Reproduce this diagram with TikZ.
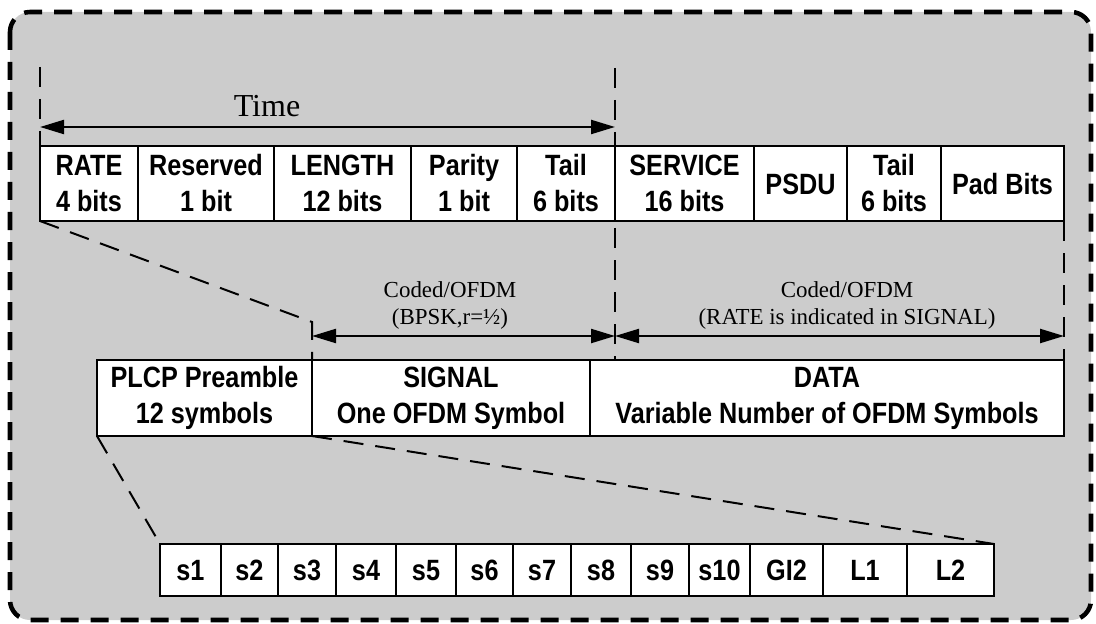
\documentclass[tikz,border=0pt]{standalone}
\usepackage{fontspec}
\setmainfont{Liberation Serif}
\newfontfamily\hb{Liberation Sans}[FakeStretch=0.86]
\usetikzlibrary{arrows.meta}
\definecolor{bgray}{RGB}{204,204,204}
\tikzset{
  cell/.style={draw, fill=white, line width=1.8pt, inner sep=0pt, outer sep=0pt,
    font=\hb\bfseries\fontsize{22}{27}\selectfont, align=center},
  sym/.style={text height=15.8pt, text depth=0pt},
  border/.style={draw, fill=bgray, line width=3.4pt, dash pattern=on 13.5pt off 9pt, rounded corners=15pt},
  guide/.style={line width=1.5pt, dash pattern=on 15pt off 9pt},
  dim/.style={line width=1.7pt, {Triangle[length=18pt,width=10.5pt]}-{Triangle[length=18pt,width=10.5pt]}},
  serif/.style={font=\fontsize{17.2}{20.5}\selectfont, align=center, inner sep=0pt},
}
\newcommand\cell[7][]{\node[cell, #1, minimum width={(#4-#3)*0.75pt}, minimum height={(#6-#5)*0.75pt}] (#2) at ({(#3+#4)/2},{(#5+#6)/2}) {#7};}
\begin{document}
\begin{tikzpicture}[x=0.75pt,y=-0.75pt]
\useasboundingbox (0,0) rectangle (1096,624);
\draw[border] (10,12) rectangle (1091,620);

% top row
\cell{rate}{40}{138}{146}{221}{RATE\\4 bits}
\cell{resv}{138}{274}{146}{221}{Reserved\\1 bit}
\cell{len}{274}{411}{146}{221}{LENGTH\\12 bits}
\cell{par}{411}{517}{146}{221}{Parity\\1 bit}
\cell{tail1}{517}{615}{146}{221}{Tail\\6 bits}
\cell{serv}{615}{754}{146}{221}{SERVICE\\16 bits}
\cell[sym]{psdu}{754}{847}{146}{221}{PSDU}
\cell{tail2}{847}{941}{146}{221}{Tail\\6 bits}
\cell[sym]{pad}{941}{1064}{146}{221}{Pad Bits}

% middle row
\cell{plcp}{97}{312}{360}{436}{PLCP Preamble\\12 symbols}
\cell{signal}{312}{590}{360}{436}{SIGNAL\\One OFDM Symbol}
\cell{data}{590}{1064}{360}{436}{DATA\\Variable Number of OFDM Symbols}

% bottom row
\cell[sym]{s1}{160}{221}{544}{596}{s1}
\cell[sym]{s2}{221}{278}{544}{596}{s2}
\cell[sym]{s3}{278}{336}{544}{596}{s3}
\cell[sym]{s4}{336}{396}{544}{596}{s4}
\cell[sym]{s5}{396}{456}{544}{596}{s5}
\cell[sym]{s6}{456}{513}{544}{596}{s6}
\cell[sym]{s7}{513}{571}{544}{596}{s7}
\cell[sym]{s8}{571}{631}{544}{596}{s8}
\cell[sym]{s9}{631}{689}{544}{596}{s9}
\cell[sym]{s10}{689}{750}{544}{596}{s10}
\cell[sym]{gi2}{750}{823}{544}{596}{GI2}
\cell[sym]{l1}{823}{907}{544}{596}{L1}
\cell[sym]{l2}{907}{994}{544}{596}{L2}

% guide coordinates
\coordinate (g1) at (40,67);
\coordinate (g2) at (615,68);
\coordinate (g3) at (615,360);
\coordinate (g4) at (312,322);
\coordinate (t1) at (40,127);
\coordinate (t2) at (615,127);
\coordinate (a1) at (312,336);
\coordinate (a2) at (615,336);
\coordinate (a3) at (1064,336);

% dashed guides
\draw[guide] (g1) -- (rate.north west);
\draw[guide] (g2) -- (g3);
\draw[guide] (rate.south west) -- (g4) -- (signal.north west);
\draw[guide] (pad.south east) -- (data.north east);
\draw[guide] (plcp.south west) -- (s1.north west);
\draw[guide] (signal.south west) -- (l2.north east);

% dimension arrows
\draw[dim] (t1) -- (t2);
\draw[dim] (a1) -- (a2);
\draw[dim] (a2) -- (a3);

% labels
\node[font=\fontsize{24}{28}\selectfont, anchor=base, inner sep=0pt] (time) at (267,117) {Time};
\node[serif] (lab1) at (450,305.5) {Coded/OFDM\\(BPSK,r=½)};
\node[serif] (lab2) at (847,305.5) {Coded/OFDM\\(RATE is indicated in SIGNAL)};
\end{tikzpicture}
\end{document}
